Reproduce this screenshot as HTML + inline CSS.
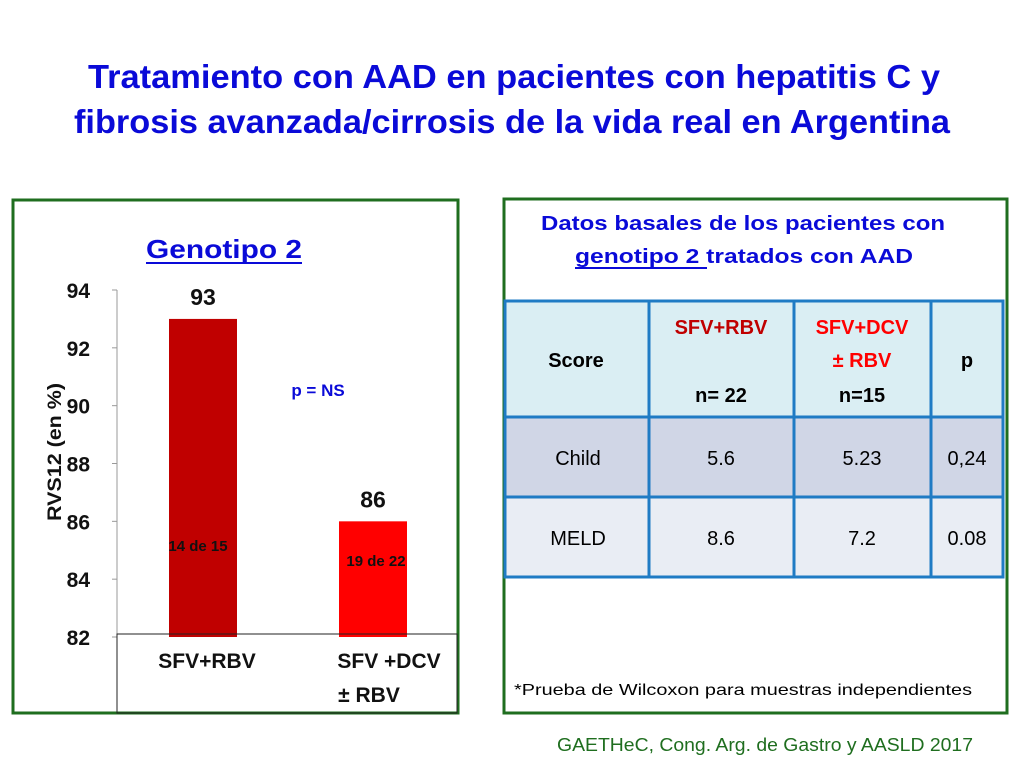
<!DOCTYPE html>
<html><head><meta charset="utf-8"><style>body{margin:0;background:#fff}svg{display:block}</style></head>
<body>
<svg id="s" width="1024" height="768" viewBox="0 0 1024 768" xmlns="http://www.w3.org/2000/svg" font-family="Liberation Sans, sans-serif">
<text x="514" y="88" text-anchor="middle" font-size="33" font-weight="bold" fill="#0a0ad8" textLength="852" lengthAdjust="spacingAndGlyphs">Tratamiento con AAD en pacientes con hepatitis C y</text>
<text x="512" y="133" text-anchor="middle" font-size="33" font-weight="bold" fill="#0a0ad8" textLength="876" lengthAdjust="spacingAndGlyphs">fibrosis avanzada/cirrosis de la vida real en Argentina</text>

<rect x="13" y="200" width="445" height="513" fill="#fff" stroke="#1f6e1f" stroke-width="3"/>
<text x="224" y="258" text-anchor="middle" font-size="26" font-weight="bold" fill="#0a0ad8" textLength="156" lengthAdjust="spacingAndGlyphs">Genotipo 2</text>
<line x1="146" y1="263" x2="302" y2="263" stroke="#0a0ad8" stroke-width="2"/>
<g id="chart"></g>
<rect x="117" y="634" width="340" height="79" fill="none" stroke="#222" stroke-width="1"/>
<text transform="translate(61,452) rotate(-90)" text-anchor="middle" font-size="19" font-weight="bold" fill="#111" textLength="138" lengthAdjust="spacingAndGlyphs">RVS12 (en %)</text>
<text x="318" y="396" text-anchor="middle" font-size="17" font-weight="bold" fill="#0a0ad8">p = NS</text>

<rect x="504" y="199" width="503" height="514" fill="#fff" stroke="#1f6e1f" stroke-width="3"/>
<text x="743" y="230" text-anchor="middle" font-size="20" font-weight="bold" fill="#0a0ad8" textLength="404" lengthAdjust="spacingAndGlyphs">Datos basales de los pacientes con</text>
<text x="744" y="263" text-anchor="middle" font-size="20" font-weight="bold" fill="#0a0ad8" textLength="338" lengthAdjust="spacingAndGlyphs">genotipo 2 tratados con AAD</text>
<line x1="575" y1="268" x2="707" y2="268" stroke="#0a0ad8" stroke-width="2"/>

<g>
<rect x="505" y="301" width="498" height="116" fill="#daeef3"/>
<rect x="505" y="417" width="498" height="80" fill="#d0d6e6"/>
<rect x="505" y="497" width="498" height="80" fill="#e9edf4"/>
<g stroke="#1f7bc4" stroke-width="3" fill="none">
<rect x="505" y="301" width="498" height="276"/>
<line x1="505" y1="417" x2="1003" y2="417"/><line x1="505" y1="497" x2="1003" y2="497"/>
<line x1="649" y1="301" x2="649" y2="577"/><line x1="794" y1="301" x2="794" y2="577"/><line x1="931" y1="301" x2="931" y2="577"/>
</g>
<g font-size="20" text-anchor="middle">
<text x="576" y="367" font-weight="bold" fill="#000">Score</text>
<text x="721" y="334" font-weight="bold" fill="#c00000">SFV+RBV</text>
<text x="721" y="402" font-weight="bold" fill="#000">n= 22</text>
<text x="862" y="334" font-weight="bold" fill="#ff0000">SFV+DCV</text>
<text x="862" y="367" font-weight="bold" fill="#ff0000">± RBV</text>
<text x="862" y="402" font-weight="bold" fill="#000">n=15</text>
<text x="967" y="367" font-weight="bold" fill="#000">p</text>
<text x="578" y="465" fill="#000">Child</text>
<text x="721" y="465" fill="#000">5.6</text>
<text x="862" y="465" fill="#000">5.23</text>
<text x="967" y="465" fill="#000">0,24</text>
<text x="578" y="545" fill="#000">MELD</text>
<text x="721" y="545" fill="#000">8.6</text>
<text x="862" y="545" fill="#000">7.2</text>
<text x="967" y="545" fill="#000">0.08</text>
</g>
</g>
<text x="514" y="695" font-size="16" fill="#000" textLength="458" lengthAdjust="spacingAndGlyphs">*Prueba de Wilcoxon para muestras independientes</text>
<text x="557" y="751" font-size="18" fill="#1f6e1f" textLength="416" lengthAdjust="spacingAndGlyphs">GAETHeC, Cong. Arg. de Gastro y AASLD 2017</text>
</svg>
<script>
const categories = ["SFV+RBV", "SFV +DCV|± RBV"];
const values = [93, 86];
const counts = ["14 de 15", "19 de 22"];
const ticks = [82, 84, 86, 88, 90, 92, 94];
const barColors = ["#c00000", "#ff0000"];

const NS = "http://www.w3.org/2000/svg";
const g = document.getElementById("chart");
const y0 = 637, y1 = 290, vMin = 82, vMax = 94;
const yScale = v => y0 - (v - vMin) / (vMax - vMin) * (y0 - y1);
const xLeft = 117, xRight = 457;
const band = (xRight - xLeft) / categories.length;
const xCenter = i => xLeft + band * i + band / 2 + 1;
function mk(tag, attrs, text) {
  const e = document.createElementNS(NS, tag);
  for (const k in attrs) e.setAttribute(k, attrs[k]);
  if (text !== undefined) e.textContent = text;
  g.appendChild(e);
  return e;
}
const axis = mk("line", {x1: xLeft, y1: yScale(vMax), x2: xLeft, y2: y0, stroke: "#999", "stroke-width": 1});


ticks.forEach(t => {
  const tk = mk("line", {x1: xLeft - 5, x2: xLeft, y1: yScale(t), y2: yScale(t), stroke: "#999"});
  
  
  const lb = mk("text", {x: 90, y: yScale(t) + 8, "text-anchor": "end", "font-size": 21, "font-weight": "bold", fill: "#111"}, String(t));
  
  
});
values.forEach((v, i) => {
  const cx = xCenter(i), w = 68;
  const b = mk("rect", {x: cx - w / 2, y: yScale(v), width: w, height: y0 - yScale(v), fill: barColors[i]});
  
  
  const vl = mk("text", {x: cx, y: yScale(v) - 14, "text-anchor": "middle", "font-size": 23, "font-weight": "bold", fill: "#111"}, String(v));
  
  
  const cl = mk("text", {x: cx - 5 + i * 8, y: i === 0 ? 551 : 566, "text-anchor": "middle", "font-size": 15, "font-weight": "bold", fill: "#111"}, counts[i]);
  
  
  const parts = categories[i].split("|");
  parts.forEach((p, j) => {
    const t = mk("text", {x: i === 0 ? cx + 4 : cx + 16 - (j ? 20 : 0), y: 668 + j * 34, "text-anchor": "middle", "font-size": 21, "font-weight": "bold", fill: "#111"}, p);
    
    
  });
});
</script>
</body></html>
